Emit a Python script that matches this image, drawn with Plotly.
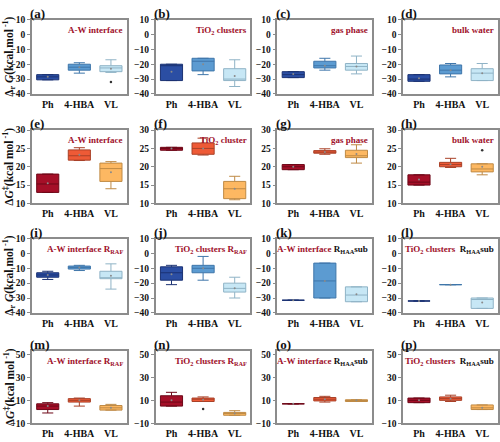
import plotly.graph_objects as go

W, H = 500, 442

categories = ["Ph", "4-HBA", "VL"]
panel_ids = list("abcdefghijklmnop")
panel_titles = [
    "A-W interface", "TiO<sub>2</sub> clusters", "gas phase", "bulk water",
    "A-W interface", "TiO<sub>2</sub> cluster", "gas phase", "bulk water",
    "A-W interface R<sub>RAF</sub>", "TiO<sub>2</sub> clusters R<sub>RAF</sub>",
    "A-W interface <span style='color:#111'>R<sub>HAA</sub>sub</span>",
    "TiO<sub>2</sub> clusters  <span style='color:#111'>R<sub>HAA</sub>sub</span>",
    "A-W interface R<sub>RAF</sub>", "TiO<sub>2</sub> clusters R<sub>RAF</sub>",
    "A-W interface <span style='color:#111'>R<sub>HAA</sub>sub</span>",
    "TiO<sub>2</sub> clusters  <span style='color:#111'>R<sub>HAA</sub>sub</span>",
]

# statistics per panel, per category (Ph, 4-HBA, VL)
Q1 = [
    [-30.5, -24, -25], [-31, -24.5, -31], [-29, -22.5, -24], [-31.5, -26.5, -31],
    [13, 21.8, 16], [24.5, 23.4, 11.3], [19.2, 23.7, 22.5], [15, 20, 18.6],
    [-16, -10.5, -17], [-18, -13, -26], [-31.5, -30, -32.5], [-32, -21, -37],
    [2, 8.5, 1.5], [5, 9, -3], [7, 9.5, 9], [8, 10, 2],
]
MED = [
    [-28.5, -22, -22.5], [-21, -18, -30], [-27, -21, -21.5], [-30, -24, -26],
    [15.3, 23, 19.5], [25, 25, 14], [20, 24, 23], [15.8, 20.6, 19.4],
    [-14.5, -9.5, -16.5], [-13, -10, -23.5], [-31.5, -18.5, -28], [-32, -21, -31],
    [5, 10, 3.5], [8.5, 11, -1.5], [7, 11, 10], [10, 11.5, 3.5],
]
Q3 = [
    [-27, -20, -21], [-20, -16, -23], [-25, -18, -19.5], [-27, -20.5, -23],
    [18, 24.6, 21], [25.3, 26.5, 16], [20.6, 24.4, 24.5], [17.8, 21.2, 20.8],
    [-13, -8.5, -12], [-9, -8, -20], [-31.5, -6.5, -22.5], [-32, -21, -30],
    [7, 11.5, 5.5], [14, 12, -0.5], [7, 12.5, 10.5], [12, 13, 6],
]
LO = [
    [-30.5, -26, -25.5], [-31, -27, -35], [-29, -24, -26.5], [-31.5, -28.5, -31],
    [13, 21.7, 14], [24.5, 23.2, 11], [19.2, 23.4, 21], [15, 19.8, 17.8],
    [-17.5, -11.5, -24], [-21, -18, -30], [-31.5, -30, -32.5], [-32, -21, -37],
    [-1, 5, 1.5], [5, 9, -3], [7, 8.5, 9], [8, 9, 2],
]
HI = [
    [-27, -19, -17], [-20, -16, -17], [-25, -16, -14.5], [-27, -19.5, -19.5],
    [18, 25.2, 21.4], [25.3, 27.8, 17.4], [20.6, 24.9, 26], [17.8, 22.3, 20.8],
    [-12, -8, -7], [-8, -2, -16], [-31.5, -6.5, -22.5], [-32, -21, -30],
    [8, 12, 6.5], [17, 13, 1], [7, 13.5, 10.5], [12, 14.5, 6],
]
MEAN = [
    [-28.5, -22, -23], [-25, -20, -28], [-26.5, -21, -21.5], [-29.5, -24, -26],
    [15.5, 23.3, 18.5], [25, 25, 14], [20, 24, 23.5], [16.5, 20.7, 20],
    [-14.5, -9.5, -15], [-14, -10, -23.5], [-31.5, -18.5, -27.5], [-32, -21, -33],
    [5, 10, 3.5], [10, 10.5, -1.5], [7, 11, 10], [10, 11.5, 3.5],
]
OUTLIERS = [
    [[], [], [-32]], [[], [], []], [[], [], []], [[], [], []],
    [[], [], []], [[], [], []], [[], [], []], [[], [], [24.5]],
    [[], [], []], [[], [], []], [[], [], []], [[], [], []],
    [[], [], []], [[], [2.5], []], [[], [], []], [[], [], []],
]

row_ranges = [[-40, 10], [10, 30], [-40, 10], [-10, 53]]
row_ticks = [[10, 0, -10, -20, -30, -40], [10, 15, 20, 25, 30],
             [10, 0, -10, -20, -30, -40], [50, 30, 10, -10]]
row_ytitles = [
    "Δ<sub>r</sub> <i>G</i>(kcal mol<sup> -1</sup>)",
    "Δ<i>G</i><sup>‡</sup>(kcal mol<sup> -1</sup>)",
    "Δ<sub>r</sub> <i>G</i>(kcal mol<sup> -1</sup>)",
    "Δ<i>G</i><sup>‡</sup>(kcal mol<sup> -1</sup>)",
]

blue_fill = ["#2b4ea3", "#5c9bd1", "#c7e7f5"]
blue_line = ["#1b3273", "#3f76aa", "#8fb3c6"]
red_fill = ["#a50f28", "#ee5a36", "#fdb862"]
red_line = ["#6e0818", "#a94128", "#bf8a45"]

col_left = [32, 156, 278, 404]
col_w = 95
row_top = [15, 128, 239, 354]
row_bot = [91, 203, 315, 428]

SERIF = "Liberation Serif, Times New Roman, serif"

fig = go.Figure()
annotations = []
layout = {}

for p in range(16):
    r, c = divmod(p, 4)
    idx = p + 1
    xa = "x" if idx == 1 else f"x{idx}"
    ya = "y" if idx == 1 else f"y{idx}"
    fills = blue_fill if r in (0, 2) else red_fill
    lines = blue_line if r in (0, 2) else red_line
    for k, cat in enumerate(categories):
        fig.add_trace(go.Box(
            x=[cat], q1=[Q1[p][k]], median=[MED[p][k]], q3=[Q3[p][k]],
            lowerfence=[LO[p][k]], upperfence=[HI[p][k]],
            fillcolor=fills[k], line=dict(color=lines[k], width=1),
            width=0.7, whiskerwidth=0.5, boxpoints=False,
            xaxis=xa, yaxis=ya, showlegend=False, hoverinfo="skip",
        ))
        fig.add_trace(go.Scatter(
            x=[cat], y=[MEAN[p][k]], mode="markers",
            marker=dict(size=2, color="#8a8a8a"),
            xaxis=xa, yaxis=ya, showlegend=False, hoverinfo="skip",
        ))
        if OUTLIERS[p][k]:
            fig.add_trace(go.Scatter(
                x=[cat] * len(OUTLIERS[p][k]), y=OUTLIERS[p][k], mode="markers",
                marker=dict(size=2.5, color="#333"),
                xaxis=xa, yaxis=ya, showlegend=False, hoverinfo="skip",
            ))

    x0 = col_left[c] / W
    x1 = (col_left[c] + col_w) / W
    y0 = 1 - row_bot[r] / H
    y1 = 1 - row_top[r] / H
    xkey = "xaxis" if idx == 1 else f"xaxis{idx}"
    ykey = "yaxis" if idx == 1 else f"yaxis{idx}"
    layout[xkey] = dict(
        domain=[x0, x1], anchor=ya, type="category",
        categoryorder="array", categoryarray=categories, range=[-0.5, 2.5],
        showline=True, mirror=True, linecolor="#8c8c8c", linewidth=1.5,
        ticks="", showgrid=False, zeroline=False,
        tickfont=dict(family=SERIF, size=10, color="#111", weight="bold"),
    )
    layout[ykey] = dict(
        domain=[y0, y1], anchor=xa, range=row_ranges[r],
        tickvals=row_ticks[r], ticks="outside", ticklen=3, tickcolor="#8c8c8c",
        showline=True, mirror=True, linecolor="#8c8c8c", linewidth=1.5,
        showgrid=False, zeroline=False,
        tickfont=dict(family=SERIF, size=9.5, color="#111", weight="bold"),
    )
    annotations.append(dict(
        text=panel_titles[p], xref=f"{xa} domain", yref=f"{ya} domain",
        x=0.98, y=0.96, xanchor="right", yanchor="top", showarrow=False,
        font=dict(family=SERIF, size=9, color="#a0102a", weight="bold"),
    ))
    annotations.append(dict(
        text=f"({panel_ids[p]})", xref=f"{xa} domain", yref=f"{ya} domain",
        x=-0.04, y=1, xanchor="left", yanchor="bottom", showarrow=False,
        yshift=-3,
        font=dict(family=SERIF, size=13, color="#111", weight="bold"),
    ))

for r in range(4):
    annotations.append(dict(
        text=row_ytitles[r], xref="paper", yref="paper",
        x=9 / W, y=1 - (row_top[r] + row_bot[r]) / 2 / H,
        xanchor="center", yanchor="middle", textangle=-90, showarrow=False,
        font=dict(family=SERIF, size=11.5, color="#111", weight="bold"),
    ))

fig.update_layout(
    width=W, height=H, margin=dict(l=0, r=0, t=0, b=0),
    plot_bgcolor="white", paper_bgcolor="white",
    annotations=annotations, boxmode="overlay", **layout,
)

fig.write_html(
    "out.html",
    config={"displayModeBar": False},
    post_script="document.body.style.margin='0';document.body.style.overflow='hidden';",
)
